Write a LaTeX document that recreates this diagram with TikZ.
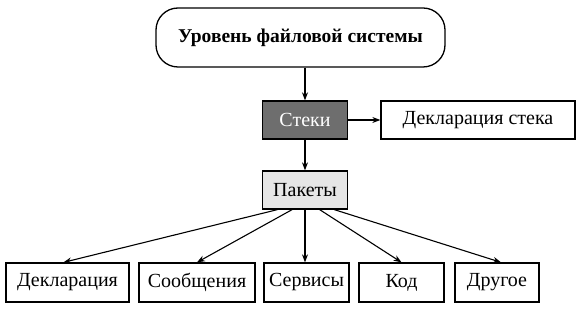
\documentclass[tikz,border=0pt]{standalone}
\usepackage{fontspec}
\setmainfont{Liberation Serif}
\usetikzlibrary{arrows.meta,calc}
\definecolor{darkbox}{HTML}{6E6E6E}
\definecolor{lightbox}{HTML}{E6E6E6}
\begin{document}
\begin{tikzpicture}[x=1pt,y=-1pt,
  box/.style={draw=black,line width=1.3pt,minimum height=38pt,inner sep=0pt,font=\fontsize{20}{23}\selectfont,fill=white},
  arr/.style={line width=1.1pt,-{Stealth[length=8pt,width=6pt]}}]
\useasboundingbox (0,0) rectangle (584,312);
\node[box,rounded corners=22pt,minimum width=289pt,minimum height=59pt,font=\bfseries\fontsize{19.5}{23}\selectfont] (top) at (300.5,37.5) {Уровень файловой системы};
\node[box,fill=darkbox,text=white,minimum width=85pt] (stek) at (305,120) {Стеки};
\node[box,minimum width=194pt] (decst) at (478,120) {Декларация стека};
\node[box,fill=lightbox,minimum width=85pt] (pak) at (305,190) {Пакеты};
\node[box,minimum width=123pt,minimum height=39pt] (decl) at (67.5,282.5) {Декларация};
\node[box,minimum width=116pt,minimum height=39pt] (msg) at (197,282.5) {Сообщения};
\node[box,minimum width=85pt,minimum height=39pt] (srv) at (306.5,282.5) {Сервисы};
\node[box,minimum width=85pt,minimum height=39pt] (code) at (401.5,282.5) {Код};
\node[box,minimum width=84pt,minimum height=39pt] (oth) at (497,282.5) {Другое};
\draw[arr] (top.south -| stek) -- (stek.north);
\draw[arr] (stek.east) -- (decst.west);
\draw[arr] (stek.south) -- (pak.north);
\draw[arr] ($(pak.south west)!0.18!(pak.south east)$) -- ($(decl.north)+(-4,0)$);
\draw[arr] ($(pak.south west)!0.35!(pak.south east)$) -- (msg.north);
\draw[arr] (pak.south) -- (pak.south |- srv.north);
\draw[arr] ($(pak.south west)!0.67!(pak.south east)$) -- (code.north);
\draw[arr] ($(pak.south west)!0.84!(pak.south east)$) -- ($(oth.north)+(4,0)$);
\end{tikzpicture}
\end{document}
